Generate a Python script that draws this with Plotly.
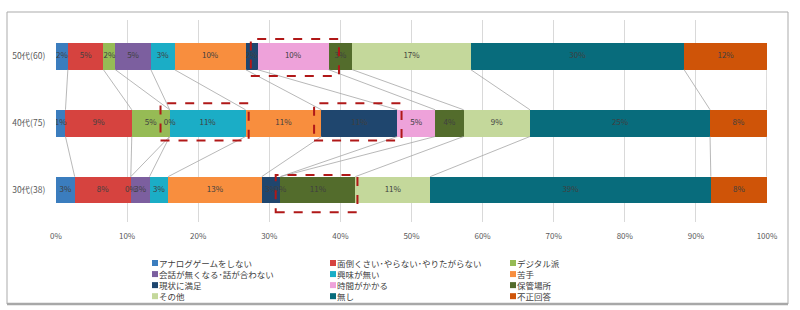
import plotly.graph_objects as go

# ---------------- data ----------------
ROWS = ["30代(38)", "40代(75)", "50代(60)"]          # bottom -> top
SERIES = ["アナログゲームをしない", "面倒くさい･やらない･やりたがらない", "デジタル派",
          "会話が無くなる･話が合わない", "興味が無い", "苦手",
          "現状に満足", "時間がかかる", "保管場所",
          "その他", "無し", "不正回答"]
COLORS = ["#3B7DBE", "#D6433F", "#96BB55", "#7C5F9F", "#1BADC6", "#F88E3E",
          "#1F466E", "#EEA2DA", "#536C2C", "#C4D89B", "#086C7C", "#CF5408"]

P30 = [2.63, 7.89, 0.00, 2.63, 2.63, 13.16, 2.63, 0.00, 10.53, 10.53, 39.47, 7.89]
P40 = [1.33, 9.33, 5.33, 0.00, 10.67, 10.67, 10.67, 5.33, 4.00, 9.33, 25.33, 8.00]
P50 = [1.67, 5.00, 1.67, 5.00, 3.33, 10.00, 1.67, 10.00, 3.33, 16.67, 30.00, 11.67]
VALUES = [P30, P40, P50]

XTICKS = [0, 10, 20, 30, 40, 50, 60, 70, 80, 90, 100]

# highlight boxes: (row index, x0 %, x1 %, dy bottom, dy top)
BOXES = [(2, 27.4, 39.8, -0.295, 0.259),
         (1, 14.7, 27.1, -0.26, 0.299),
         (1, 36.3, 48.6, -0.26, 0.299),
         (0, 30.9, 42.4, -0.334, 0.224)]

# ---------------- layout constants ----------------
W, H = 800, 310
PL, PR, PT, PB = 56, 767, 20, 222
BAR_W = 0.4
FONT = "Noto Sans CJK JP"


def px_x(px):
    return (px - PL) / (PR - PL)


def px_y(py):
    return (PB - py) / (PB - PT)


fig = go.Figure()

# series lines (connectors between rows)
cum = []
for vals in VALUES:
    c, ends = 0.0, []
    for v in vals:
        c += v
        ends.append(c)
    cum.append(ends)

cx, cy = [], []
for r in (2, 1):
    for i in range(len(SERIES)):
        cx += [cum[r][i], cum[r - 1][i], None]
        cy += [r - BAR_W / 2, r - 1 + BAR_W / 2, None]
fig.add_trace(go.Scatter(x=cx, y=cy, mode="lines", line=dict(color="#A6A6A6", width=0.8),
                         hoverinfo="skip", showlegend=False))

# stacked bars
for i, name in enumerate(SERIES):
    fig.add_trace(go.Bar(
        x=[VALUES[r][i] for r in range(3)], y=[0, 1, 2], orientation="h",
        name=name, marker=dict(color=COLORS[i], line=dict(width=0)),
        width=BAR_W, showlegend=False))

# data labels
for r, vals in enumerate(VALUES):
    xs, start = [], 0.0
    for v in vals:
        xs.append(start + v / 2)
        start += v
    fig.add_trace(go.Scatter(
        x=xs, y=[r] * len(vals), mode="text",
        text=[f"{round(v)}%" for v in vals],
        textfont=dict(family=FONT, size=8, color="#404040"),
        hoverinfo="skip", showlegend=False))

shapes = []
for r, x0, x1, d0, d1 in BOXES:
    shapes.append(dict(type="rect", xref="x", yref="y", x0=x0, x1=x1, y0=r + d0, y1=r + d1,
                       line=dict(color="#B01818", width=2, dash="dash"),
                       fillcolor="rgba(0,0,0,0)"))

# outer frame
shapes.append(dict(type="rect", xref="paper", yref="paper",
                   x0=px_x(7), x1=px_x(788), y0=px_y(304), y1=px_y(12),
                   line=dict(color="#ABABAB", width=1)))
shapes.append(dict(type="line", xref="paper", yref="paper",
                   x0=px_x(7), x1=px_x(788), y0=px_y(304), y1=px_y(304),
                   line=dict(color="#A8A8A8", width=2.5)))

# legend (3 columns, row-major), one multi-line text block per column
LEG_X = [152, 330, 510]
LEG_FS = 8.5
LEG_DY = 1.3 * LEG_FS
LEG_YC = 279.6
SQ = 6
annotations = []
for col in range(3):
    idx = list(range(col, len(SERIES), 3))
    nrows = len(idx)
    for k, i in enumerate(idx):
        yc = LEG_YC + (k - (nrows - 1) / 2) * LEG_DY
        shapes.append(dict(type="rect", xref="paper", yref="paper",
                           x0=px_x(LEG_X[col]), x1=px_x(LEG_X[col] + SQ),
                           y0=px_y(yc + SQ / 2), y1=px_y(yc - SQ / 2),
                           fillcolor=COLORS[i], line=dict(width=0)))
    annotations.append(dict(xref="paper", yref="paper", x=px_x(LEG_X[col] + SQ - 1),
                            y=px_y(LEG_YC), xanchor="left", yanchor="middle",
                            align="left", showarrow=False,
                            text="<br>".join(SERIES[i] for i in idx),
                            font=dict(family=FONT, size=LEG_FS, color="#404040")))

fig.update_layout(
    width=W, height=H, barmode="stack",
    margin=dict(l=PL, r=W - PR, t=PT, b=H - PB, pad=0),
    paper_bgcolor="white", plot_bgcolor="white",
    shapes=shapes, annotations=annotations,
    font=dict(family=FONT, color="#595959"),
    xaxis=dict(range=[0, 100], tickvals=XTICKS, ticktext=[f"{v}%" for v in XTICKS],
               showgrid=True, gridcolor="#D9D9D9", gridwidth=1, zeroline=False,
               showline=False, ticks="outside", ticklen=6, tickcolor="rgba(0,0,0,0)",
               tickfont=dict(family=FONT, size=8, color="#595959"), fixedrange=True),
    yaxis=dict(range=[-0.479, 2.543], tickvals=[0, 1, 2], ticktext=ROWS,
               showgrid=False, zeroline=False, showline=False,
               ticks="outside", ticklen=8, tickcolor="rgba(0,0,0,0)",
               tickfont=dict(family=FONT, size=8.5, color="#595959"), fixedrange=True),
)

fig.write_html("out.html")
